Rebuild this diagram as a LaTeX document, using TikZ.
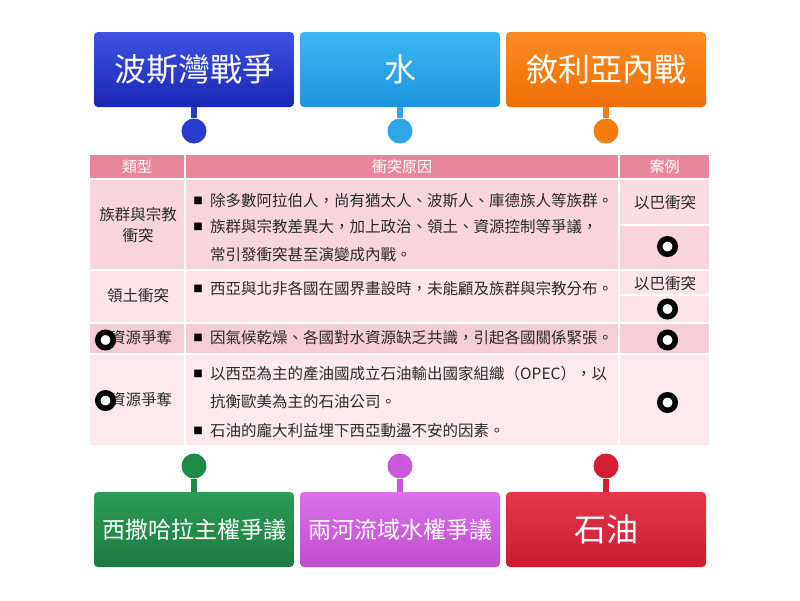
\documentclass[tikz,border=0pt]{standalone}
\usepackage{fontspec}
\setmainfont{Noto Sans CJK TC}
\definecolor{hdr}{HTML}{E8879C}
\definecolor{rA}{HTML}{F8D5DD}
\definecolor{rAc}{HTML}{FADDE3}
\definecolor{rB}{HTML}{FCE4E9}
\definecolor{rC}{HTML}{F5CDD6}
\definecolor{rD}{HTML}{FDEAEE}
\definecolor{txt}{HTML}{2A2A2A}
\definecolor{cBlueT}{HTML}{3E52E2}\definecolor{cBlueB}{HTML}{1A26B5}\definecolor{cBlue}{HTML}{2A3BCF}
\definecolor{cSkyT}{HTML}{3DB6F2}\definecolor{cSkyB}{HTML}{1E94DC}\definecolor{cSky}{HTML}{2EA6E8}
\definecolor{cOrT}{HTML}{FB8C22}\definecolor{cOrB}{HTML}{EF6E06}\definecolor{cOr}{HTML}{F57D10}
\definecolor{cGrT}{HTML}{2E9C58}\definecolor{cGrB}{HTML}{1C7A40}\definecolor{cGr}{HTML}{208A49}
\definecolor{cPuT}{HTML}{DC72EC}\definecolor{cPuB}{HTML}{BE4CCD}\definecolor{cPu}{HTML}{C85AD8}
\definecolor{cReT}{HTML}{E6384A}\definecolor{cReB}{HTML}{CC1A2E}\definecolor{cRe}{HTML}{D41E33}
\begin{document}
\begin{tikzpicture}[x=1pt,y=-1pt,
  tile/.style={rounded corners=4pt,minimum width=200pt,minimum height=75pt,inner sep=0pt,text=white},
  pinball/.style={circle,minimum size=25pt,inner sep=0pt},
  stem/.style={line width=6pt},
  cell/.style={inner sep=0pt,text=txt,font=\fontsize{15.5}{18}\selectfont},
  hcell/.style={inner sep=0pt,text=white,font=\fontsize{15}{18}\selectfont},
  bul/.style={inner sep=0pt,text=black,font=\fontsize{9.5}{9.5}\selectfont},
  ring/.style={circle,draw=black,line width=5.5pt,fill=white,minimum size=15.5pt,inner sep=0pt}]
\useasboundingbox (0,0) rectangle (800,600);
\fill[white] (0,0) rectangle (800,600);
% tiles top
\node[tile,top color=cBlueT,bottom color=cBlueB,font=\fontsize{32}{36}\selectfont] (t1) at (194,69.5) {波斯灣戰爭};
\node[tile,top color=cSkyT,bottom color=cSkyB,font=\fontsize{32}{36}\selectfont] (t2) at (400,69.5) {水};
\node[tile,top color=cOrT,bottom color=cOrB,font=\fontsize{32}{36}\selectfont] (t3) at (606,69.5) {敘利亞內戰};
\node[pinball,fill=cBlue] (p1) at (194,131) {};
\node[pinball,fill=cSky] (p2) at (400,131) {};
\node[pinball,fill=cOr] (p3) at (606,131) {};
\draw[stem,cBlue] (t1.south) -- (p1);
\draw[stem,cSky] (t2.south) -- (p2);
\draw[stem,cOr] (t3.south) -- (p3);
% tiles bottom
\node[tile,top color=cGrT,bottom color=cGrB,font=\fontsize{23}{26}\selectfont] (b1) at (194,529.5) {西撒哈拉主權爭議};
\node[tile,top color=cPuT,bottom color=cPuB,font=\fontsize{23}{26}\selectfont] (b2) at (400,529.5) {兩河流域水權爭議};
\node[tile,top color=cReT,bottom color=cReB,font=\fontsize{32}{36}\selectfont] (b3) at (606,529.5) {石油};
\node[pinball,fill=cGr] (q1) at (194,466) {};
\node[pinball,fill=cPu] (q2) at (400,466) {};
\node[pinball,fill=cRe] (q3) at (606,466) {};
\draw[stem,cGr] (b1.north) -- (q1);
\draw[stem,cPu] (b2.north) -- (q2);
\draw[stem,cRe] (b3.north) -- (q3);
% table backgrounds
\fill[hdr] (90,155) rectangle (184,178);
\fill[hdr] (186,155) rectangle (618,178);
\fill[hdr] (620,155) rectangle (709,178);
\fill[rA] (90,180) rectangle (184,269);
\fill[rA] (186,180) rectangle (618,269);
\fill[rAc] (620,180) rectangle (709,224);
\fill[rA] (620,226) rectangle (709,269);
\fill[rB] (90,271) rectangle (184,322);
\fill[rB] (186,271) rectangle (618,322);
\fill[rB] (620,271) rectangle (709,294);
\fill[rB] (620,296) rectangle (709,322);
\fill[rC] (90,324) rectangle (184,353);
\fill[rC] (186,324) rectangle (618,353);
\fill[rC] (620,324) rectangle (709,353);
\fill[rD] (90,355) rectangle (184,445);
\fill[rD] (186,355) rectangle (618,445);
\fill[rD] (620,355) rectangle (709,445);
% header
\node[hcell] (h1) at (137,166.5) {類型};
\node[hcell] (h2) at (402,166.5) {衝突原因};
\node[hcell] (h3) at (664.5,166.5) {案例};
% row 1
\node[cell,align=center,font=\fontsize{15.5}{21.5}\selectfont] (c11) at (138,225) {族群與宗教\\衝突};
\node[bul] (u11) at (198,201) {■};
\node[cell,anchor=west] (c12) at (210,201) {除多數阿拉伯人，尚有猶太人、波斯人、庫德族人等族群。};
\node[bul] (u12) at (198,227) {■};
\node[cell,anchor=west] (c13) at (210,227) {族群與宗教差異大，加上政治、領土、資源控制等爭議，};
\node[cell,anchor=west] (c14) at (210,255) {常引發衝突甚至演變成內戰。};
\node[cell] (c15) at (665,202.5) {以巴衝突};
\node[ring] (r1) at (667.5,246.5) {};
% row 2
\node[cell] (c21) at (138,296) {領土衝突};
\node[bul] (u21) at (198,289) {■};
\node[cell,anchor=west] (c22) at (210,289) {西亞與北非各國在國界畫設時，未能顧及族群與宗教分布。};
\node[cell] (c23) at (665,283.5) {以巴衝突};
\node[ring] (r2) at (667.5,309) {};
% row 3
\node[cell] (c31) at (141,338) {資源爭奪};
\node[ring] (r3) at (105.5,340) {};
\node[bul] (u31) at (198,338) {■};
\node[cell,anchor=west] (c32) at (210,338) {因氣候乾燥、各國對水資源缺乏共識，引起各國關係緊張。};
\node[ring] (r4) at (667.5,340) {};
% row 4
\node[cell] (c41) at (141,400) {資源爭奪};
\node[ring] (r5) at (105.5,400.5) {};
\node[bul] (u41) at (198,374) {■};
\node[cell,anchor=west] (c42) at (210,374) {以西亞為主的產油國成立石油輸出國家組織（OPEC），以};
\node[cell,anchor=west] (c43) at (210,402) {抗衡歐美為主的石油公司。};
\node[bul] (u42) at (198,431) {■};
\node[cell,anchor=west] (c44) at (210,431) {石油的龐大利益埋下西亞動盪不安的因素。};
\node[ring] (r6) at (667.5,402.5) {};
\end{tikzpicture}
\end{document}
